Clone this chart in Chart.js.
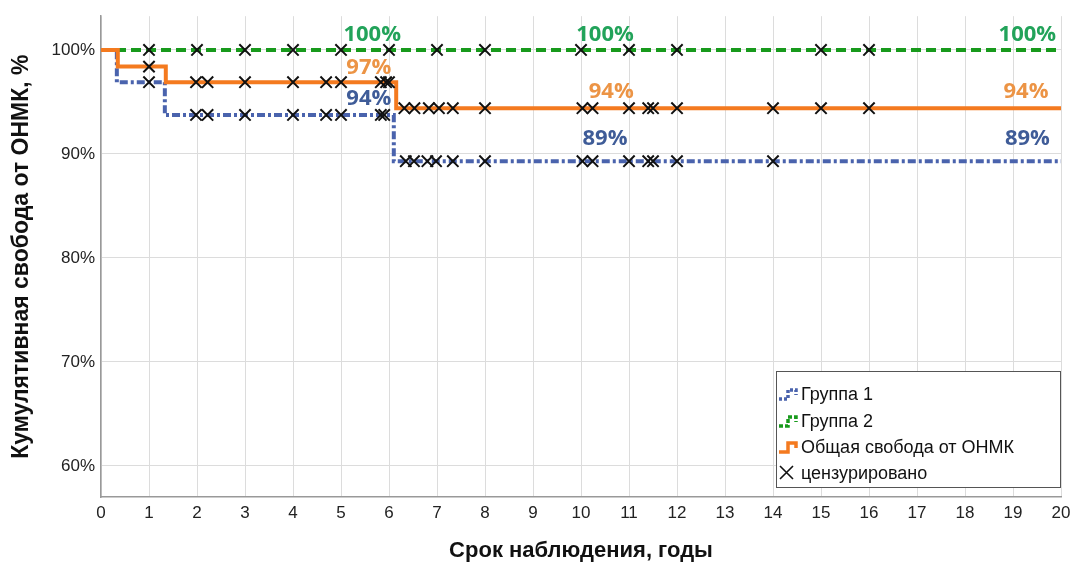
<!DOCTYPE html>
<html>
<head>
<meta charset="utf-8">
<script src="https://cdn.jsdelivr.net/npm/chart.js@4"></script>
<style>
  body { margin: 0; background: #fff; }
  #wrap { width: 1073px; height: 564px; }
</style>
</head>
<body>
<div id="wrap"><canvas id="kmChart" width="1073" height="564"></canvas></div>
<script>
// step curves (time in years, cumulative freedom %)
const group1Times = [0, 0.33, 1.33, 6.1, 20];
const group1Values = [100, 96.9, 93.75, 89.3, 89.3];
const group2Times = [0, 20];
const group2Values = [100, 100];
const totalTimes = [0, 0.35, 1.35, 6.15, 20];
const totalValues = [100, 98.4, 96.9, 94.4, 94.4];

// censored observations (years)
const group1Censored = [1, 1.98, 2.22, 3, 4, 4.69, 5, 5.83, 5.9, 6.35, 6.52, 6.8, 6.98, 7.33, 8, 10.03, 10.24, 11, 11.4, 11.5, 12, 14];
const group2Censored = [1, 2, 3, 4, 5, 6, 7, 8, 10, 11, 12, 15, 16];
const totalCensored = [1, 1.98, 2.22, 3, 4, 4.69, 5, 5.83, 5.94, 6, 6.32, 6.53, 6.83, 7.04, 7.33, 8, 10.03, 10.24, 11, 11.4, 11.5, 12, 14, 15, 16];

const yTicks = [60, 70, 80, 90, 100];

// percent annotations
const group2LabelX = [5.65, 10.5, 19.3];
const group2LabelY = [101.5, 101.5, 101.5];
const group2LabelText = ["100%", "100%", "100%"];
const totalLabelX = [5.58, 10.63, 19.27];
const totalLabelY = [98.3, 96.0, 96.0];
const totalLabelText = ["97%", "94%", "94%"];
const group1LabelX = [5.58, 10.5, 19.3];
const group1LabelY = [95.3, 91.45, 91.45];
const group1LabelText = ["94%", "89%", "89%"];

const BLUE = "#4a63ad";
const GREEN = "#189a1c";
const ORANGE = "#f47a1f";

function toPoints(xs, ys) {
  return xs.map((x, i) => ({ x: x, y: ys[i] }));
}

// value of step curve at time t
function stepValue(times, values, t) {
  let v = values[0];
  for (let i = 0; i < times.length; i++) {
    if (times[i] <= t) v = values[i];
  }
  return v;
}

function censoredPoints(cens, times, values) {
  return cens.map((t) => ({ x: t, y: stepValue(times, values, t) }));
}

const labelPlugin = {
  id: "kmLabels",
  afterDatasetsDraw(chart) {
    const ctx = chart.ctx;
    const xs = chart.scales.x;
    const ys = chart.scales.y;
    const sets = [
      [group2LabelX, group2LabelY, group2LabelText, "#22a35a"],
      [totalLabelX, totalLabelY, totalLabelText, "#ec9445"],
      [group1LabelX, group1LabelY, group1LabelText, "#3f5c98"],
    ];
    ctx.save();
    ctx.font = "bold 22px 'Open Sans'";
    ctx.textAlign = "center";
    ctx.textBaseline = "middle";
    sets.forEach(([lx, ly, txt, col]) => {
      ctx.fillStyle = col;
      lx.forEach((x, i) => {
        ctx.fillText(txt[i], xs.getPixelForValue(x), ys.getPixelForValue(ly[i]));
      });
    });
    ctx.restore();
  },
};

const legendPlugin = {
  id: "kmLegend",
  afterDraw(chart) {
    const ctx = chart.ctx;
    const x0 = 776, y0 = 371, w = 284, h = 116;
    ctx.save();
    ctx.fillStyle = "#fff";
    ctx.fillRect(x0, y0, w, h);
    ctx.strokeStyle = "#555";
    ctx.lineWidth = 1;
    ctx.strokeRect(x0 + 0.5, y0 + 0.5, w, h);

    const items = [
      { text: "Группа 1", color: BLUE, dash: [3, 2], y: 394 },
      { text: "Группа 2", color: GREEN, dash: [4, 2], y: 421 },
      { text: "Общая свобода от ОНМК", color: ORANGE, dash: [], y: 447 },
    ];
    items.forEach((it) => {
      ctx.strokeStyle = it.color;
      ctx.lineWidth = 3.5;
      ctx.setLineDash(it.dash);
      ctx.beginPath();
      ctx.moveTo(779, it.y + 5);
      ctx.lineTo(788, it.y + 5);
      ctx.lineTo(788, it.y - 4);
      ctx.lineTo(796, it.y - 4);
      ctx.lineTo(796, it.y + 1);
      ctx.stroke();
    });
    ctx.setLineDash([]);
    // censored symbol
    ctx.strokeStyle = "#111";
    ctx.lineWidth = 1.6;
    ctx.beginPath();
    ctx.moveTo(780, 466); ctx.lineTo(793, 479);
    ctx.moveTo(793, 466); ctx.lineTo(780, 479);
    ctx.stroke();

    ctx.fillStyle = "#111";
    ctx.font = "18px 'Liberation Sans'";
    ctx.textBaseline = "middle";
    ctx.textAlign = "left";
    items.forEach((it) => ctx.fillText(it.text, 801, it.y + 1));
    ctx.fillText("цензурировано", 801, 474);
    ctx.restore();
  },
};

const crossStyle = {
  type: "scatter",
  pointStyle: "crossRot",
  pointRadius: 8,
  pointBorderWidth: 2,
  borderColor: "#111",
  backgroundColor: "#111",
  showLine: false,
};

new Chart(document.getElementById("kmChart"), {
  type: "scatter",
  data: {
    datasets: [
      Object.assign({}, crossStyle, { label: "c2", data: censoredPoints(group2Censored, group2Times, group2Values), order: 0 }),
      Object.assign({}, crossStyle, { label: "ct", data: censoredPoints(totalCensored, totalTimes, totalValues), order: 0 }),
      Object.assign({}, crossStyle, { label: "c1", data: censoredPoints(group1Censored, group1Times, group1Values), order: 0 }),
      {
        label: "Группа 1",
        data: toPoints(group1Times, group1Values),
        showLine: true,
        stepped: "before",
        borderColor: BLUE,
        borderWidth: 4,
        borderDash: [8, 3, 3, 3],
        pointRadius: 0,
        order: 3,
      },
      {
        label: "Группа 2",
        data: toPoints(group2Times, group2Values),
        showLine: true,
        stepped: "before",
        borderColor: GREEN,
        borderWidth: 4,
        borderDash: [10, 5],
        pointRadius: 0,
        order: 2,
      },
      {
        label: "Общая свобода от ОНМК",
        data: toPoints(totalTimes, totalValues),
        showLine: true,
        stepped: "before",
        borderColor: ORANGE,
        borderWidth: 4,
        pointRadius: 0,
        order: 1,
      },
    ],
  },
  options: {
    responsive: false,
    animation: false,
    layout: { padding: { top: 15, right: 12, left: 0, bottom: 0 } },
    plugins: {
      legend: { display: false },
      tooltip: { enabled: false },
    },
    scales: {
      x: {
        type: "linear",
        min: 0,
        max: 20,
        ticks: {
          stepSize: 1,
          color: "#222",
          padding: 6,
          font: { family: "'Liberation Sans'", size: 17 },
        },
        grid: { color: "#dcdcdc", drawTicks: false },
        border: { color: "#999", width: 1.5 },
        title: {
          display: true,
          text: "Срок наблюдения, годы",
          color: "#111",
          padding: { bottom: 0 },
          font: { family: "'Liberation Sans'", size: 22, weight: "bold" },
        },
        afterFit(scale) {
          scale.height = 67;
          scale.paddingRight = 0;
        },
      },
      y: {
        min: 57,
        max: 103.25,
        afterBuildTicks(scale) { scale.ticks = yTicks.map((v) => ({ value: v })); },
        ticks: {
          color: "#222",
          padding: 6,
          font: { family: "'Liberation Sans'", size: 17 },
          callback: (v) => v + "%",
        },
        grid: { color: "#dcdcdc", drawTicks: false },
        border: { color: "#999", width: 1.5 },
        title: {
          display: true,
          text: "Кумулятивная свобода от ОНМК, %",
          color: "#111",
          padding: { top: 8 },
          font: { family: "'Liberation Sans'", size: 23, weight: "bold" },
        },
        afterFit(scale) { scale.width = 101; },
      },
    },
  },
  plugins: [labelPlugin, legendPlugin],
});
</script>
</body>
</html>
